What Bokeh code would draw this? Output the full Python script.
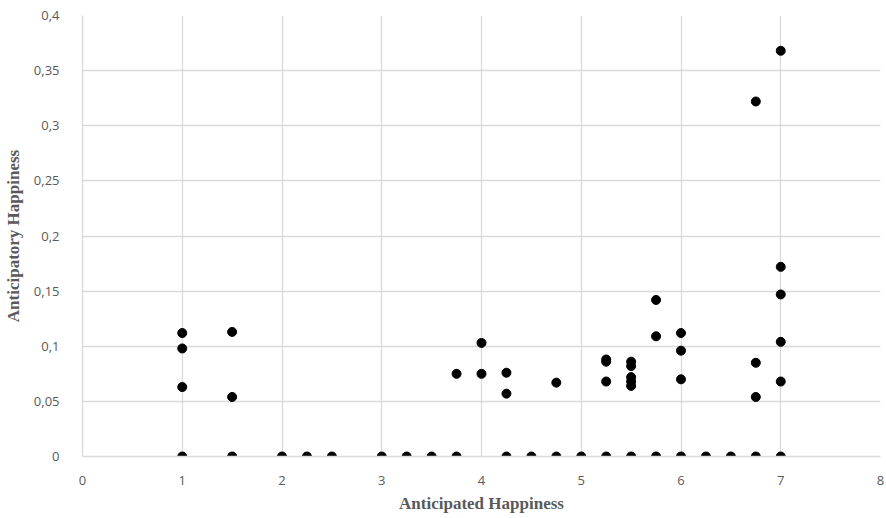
from bokeh.plotting import figure
from bokeh.models import ColumnDataSource, FixedTicker
from bokeh.embed import file_html
from bokeh.resources import INLINE

# Points with zero anticipatory happiness
zero_x = [1, 1.5, 2, 2.25, 2.5, 3, 3.25, 3.5, 3.75, 4.25, 4.5, 4.75, 5, 5.25,
          5.5, 5.75, 6, 6.25, 6.5, 6.75, 7]
zero_y = [0.0] * len(zero_x)

# Points with non-zero anticipatory happiness
pos_x = [1, 1, 1,
         1.5, 1.5,
         3.75,
         4, 4,
         4.25, 4.25,
         4.75,
         5.25, 5.25, 5.25,
         5.5, 5.5, 5.5, 5.5, 5.5,
         5.75, 5.75,
         6, 6, 6,
         6.75, 6.75, 6.75,
         7, 7, 7, 7, 7]
pos_y = [0.112, 0.098, 0.063,
         0.113, 0.054,
         0.075,
         0.103, 0.075,
         0.076, 0.057,
         0.067,
         0.088, 0.086, 0.068,
         0.086, 0.082, 0.072, 0.068, 0.064,
         0.142, 0.109,
         0.112, 0.096, 0.070,
         0.322, 0.085, 0.054,
         0.368, 0.172, 0.147, 0.104, 0.068]

x_ticks = [0, 1, 2, 3, 4, 5, 6, 7, 8]
y_ticks = [0, 0.05, 0.1, 0.15, 0.2, 0.25, 0.3, 0.35, 0.4]
y_tick_labels = ["0", "0,05", "0,1", "0,15", "0,2", "0,25", "0,3", "0,35", "0,4"]

x_all = zero_x + pos_x
y_all = zero_y + pos_y
src = ColumnDataSource(dict(x=x_all, y=y_all))

p = figure(width=884, height=515, x_range=(0, 8), y_range=(0, 0.4),
           output_backend="svg", toolbar_location=None,
           min_border_left=82, min_border_right=4, min_border_top=15,
           min_border_bottom=58)
p.outline_line_color = None
p.background_fill_color = "white"
p.border_fill_color = "white"

p.scatter("x", "y", source=src, size=9, color="black")

grid_col = "#d9d9d9"
p.xgrid.grid_line_color = grid_col
p.ygrid.grid_line_color = grid_col
p.xgrid.grid_line_width = 1.3
p.ygrid.grid_line_width = 1.3

p.xaxis.ticker = FixedTicker(ticks=x_ticks)
p.yaxis.ticker = FixedTicker(ticks=y_ticks)
p.yaxis.major_label_overrides = {t: l for t, l in zip(y_ticks, y_tick_labels)}

tick_font = "Open Sans"
for ax in (p.xaxis[0], p.yaxis[0]):
    ax.axis_line_color = grid_col
    ax.axis_line_width = 1.3
    ax.major_tick_line_color = None
    ax.minor_tick_line_color = None
    ax.major_label_text_font = tick_font
    ax.major_label_text_font_size = "13px"
    ax.major_label_text_color = "#595959"
    ax.axis_label_text_font = "Liberation Serif"
    ax.axis_label_text_font_style = "bold"
    ax.axis_label_text_font_size = "17px"
    ax.axis_label_text_color = "#595959"

p.xaxis.axis_label = "Anticipated Happiness"
p.yaxis.axis_label = "Anticipatory Happiness"
p.xaxis.major_label_standoff = 13
p.yaxis.major_label_standoff = 17
p.xaxis.axis_label_standoff = 6
p.yaxis.axis_label_standoff = 8

open("out.html", "w").write(file_html(p, INLINE))
